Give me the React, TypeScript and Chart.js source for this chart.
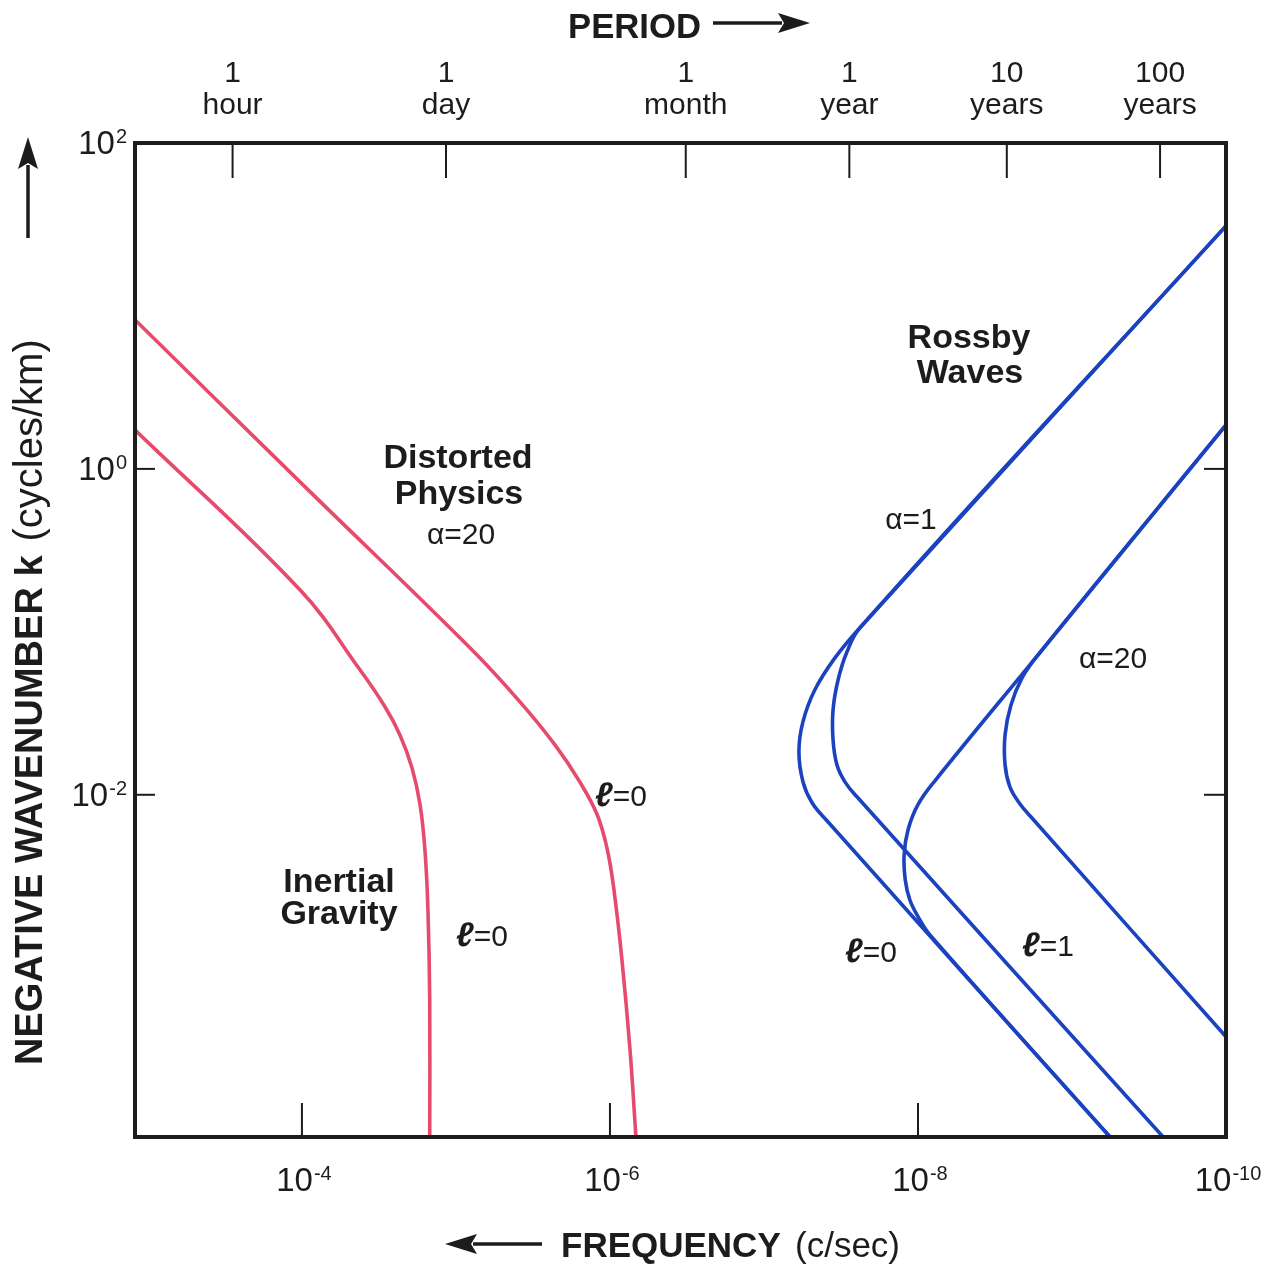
import React, { useEffect, useRef } from 'react';
import { Chart, registerables } from 'chart.js';

Chart.register(...registerables);

const FONT = '"Liberation Sans", Arial, Helvetica, sans-serif';
const INK = '#1c1c1c';
const RED = '#e64b6d';
const BLUE = '#1b42bf';

// ---- axis ranges ----
const FREQ_MIN = 1e-10;
const FREQ_MAX = 1.213e-3;
const K_MIN = 7.94e-5;
const K_MAX = 1e2;

// ---- tick values / labels ----
const FREQ_TICKS = [1e-4, 1e-6, 1e-8, 1e-10];
const FREQ_TICK_EXP = ['-4', '-6', '-8', '-10'];
const K_TICKS = [1e2, 1e0, 1e-2];
const K_TICK_EXP = ['2', '0', '-2'];
const PERIOD_FREQ = [2.82e-4, 1.16e-5, 3.22e-7, 2.79e-8, 2.65e-9, 2.68e-10];
const PERIOD_NUM = ['1', '1', '1', '1', '10', '100'];
const PERIOD_UNIT = ['hour', 'day', 'month', 'year', 'years', 'years'];

// ---- series (frequency c/sec, negative wavenumber cycles/km) ----
const inertialFreq = [1.21e-3, 1.03e-4, 4.2e-5, 2.89e-5, 2.31e-5, 1.93e-5, 1.71e-5, 1.59e-5, 1.52e-5, 1.48e-5, 1.48e-5];
const inertialK = [1.73, 0.181, 0.0585, 0.0347, 0.0233, 0.01466, 8.69e-3, 4.6e-3, 1.97e-3, 5.52e-4, 7.94e-5];

const distortedFreq = [1.21e-3, 1.03e-4, 8.11e-6, 3.84e-6, 2.28e-6, 1.57e-6, 1.21e-6, 1.04e-6, 9.42e-7, 8.36e-7, 7.41e-7, 6.78e-7];
const distortedK = [8.2, 0.832, 0.0798, 0.0372, 0.0203, 0.012, 7.54e-3, 4.6e-3, 2.61e-3, 9.72e-4, 2.73e-4, 7.94e-5];

const rossbyA1L0Freq = [1e-10, 2.38e-8, 3.46e-8, 4.67e-8, 5.58e-8, 5.93e-8, 5.58e-8, 4.87e-8, 3.95e-8, 5.66e-10];
const rossbyA1L0K = [31.0, 0.106, 0.0692, 0.0441, 0.0281, 0.01836, 0.012, 8.93e-3, 7.03e-3, 7.94e-5];

const rossbyA1L1Freq = [1e-10, 2.38e-8, 2.89e-8, 3.3e-8, 3.56e-8, 3.56e-8, 3.36e-8, 2.98e-8, 2.49e-8, 2.56e-10];
const rossbyA1L1K = [31.0, 0.106, 0.0754, 0.0508, 0.0332, 0.0217, 0.01528, 0.012, 9.72e-3, 7.94e-5];

const rossbyA20L0Freq = [1e-10, 1.66e-9, 7.76e-9, 1.0e-8, 1.16e-8, 1.23e-8, 1.21e-8, 1.13e-8, 1.0e-8, 8.36e-9, 5.66e-10];
const rossbyA20L0K = [1.86, 0.0723, 0.01219, 8.69e-3, 6.1e-3, 4.28e-3, 3.01e-3, 2.27e-3, 1.79e-3, 1.38e-3, 7.94e-5];

const rossbyA20L1Freq = [1e-10, 1.66e-9, 2.11e-9, 2.49e-9, 2.72e-9, 2.72e-9, 2.53e-9, 2.18e-9, 1.85e-9, 1e-10];
const rossbyA20L1K = [1.86, 0.0723, 0.0522, 0.0356, 0.0233, 0.01528, 0.0112, 8.81e-3, 7.33e-3, 3.27e-4];

const pts = (f: number[], k: number[]) => f.map((x, i) => ({ x, y: k[i] }));

const curve = (label: string, f: number[], k: number[], color: string) => ({
  label,
  data: pts(f, k),
  borderColor: color,
  backgroundColor: color,
  borderWidth: 3.6,
  pointRadius: 0,
  showLine: true,
  fill: false,
  tension: 0.4,
  xAxisID: 'x',
  yAxisID: 'y',
});

function txt(ctx: CanvasRenderingContext2D, s: string, x: number, y: number, font: string, align: CanvasTextAlign = 'center', maxW?: number) {
  ctx.font = font;
  ctx.textAlign = align;
  ctx.textBaseline = 'alphabetic';
  if (maxW) ctx.fillText(s, x, y, maxW);
  else ctx.fillText(s, x, y);
}

function power(ctx: CanvasRenderingContext2D, exp: string, x: number, y: number, align: 'center' | 'right') {
  const big = `33px ${FONT}`;
  const small = `20px ${FONT}`;
  ctx.font = big;
  const w1 = ctx.measureText('10').width;
  ctx.font = small;
  const w2 = ctx.measureText(exp).width;
  const total = w1 + 1 + w2;
  const x0 = align === 'center' ? x - total / 2 : x - total;
  ctx.textAlign = 'left';
  ctx.textBaseline = 'alphabetic';
  ctx.font = big;
  ctx.fillText('10', x0, y);
  ctx.font = small;
  ctx.fillText(exp, x0 + w1 + 1, y - 11);
}

function ell(ctx: CanvasRenderingContext2D, rest: string, cx: number, y: number) {
  const f1 = `italic bold 34px ${FONT}`;
  const f2 = `30px ${FONT}`;
  ctx.font = f1;
  const w1 = ctx.measureText('ℓ').width;
  ctx.font = f2;
  const w2 = ctx.measureText(rest).width;
  const x0 = cx - (w1 + w2) / 2;
  ctx.textAlign = 'left';
  ctx.textBaseline = 'alphabetic';
  ctx.font = f1;
  ctx.fillText('ℓ', x0, y);
  ctx.font = f2;
  ctx.fillText(rest, x0 + w1, y);
}

function arrow(ctx: CanvasRenderingContext2D, x1: number, y1: number, x2: number, y2: number, head = 32, half = 10, lw = 3.5) {
  const dx = x2 - x1, dy = y2 - y1;
  const len = Math.hypot(dx, dy);
  const ux = dx / len, uy = dy / len;
  const bx = x2 - ux * head, by = y2 - uy * head;
  ctx.lineWidth = lw;
  ctx.beginPath();
  ctx.moveTo(x1, y1);
  ctx.lineTo(bx + ux * 4, by + uy * 4);
  ctx.stroke();
  ctx.beginPath();
  ctx.moveTo(x2, y2);
  ctx.lineTo(bx - uy * half, by + ux * half);
  ctx.lineTo(bx + ux * 6, by + uy * 6);
  ctx.lineTo(bx + uy * half, by - ux * half);
  ctx.closePath();
  ctx.fill();
}

const overlay = {
  id: 'overlay',
  beforeDraw(chart: any) {
    const ctx = chart.ctx as CanvasRenderingContext2D;
    ctx.save();
    ctx.fillStyle = '#ffffff';
    ctx.fillRect(0, 0, chart.width, chart.height);
    ctx.restore();
  },
  afterDraw(chart: any) {
    const ctx = chart.ctx as CanvasRenderingContext2D;
    const a = chart.chartArea;
    const { x, xTop, y, yRight } = chart.scales;
    ctx.save();
    ctx.strokeStyle = INK;
    ctx.fillStyle = INK;

    // frame
    ctx.lineWidth = 4;
    ctx.strokeRect(a.left, a.top, a.right - a.left, a.bottom - a.top);

    // bottom frequency ticks + labels
    ctx.lineWidth = 2;
    FREQ_TICKS.forEach((v, i) => {
      const px = x.getPixelForValue(v);
      if (px > a.left + 4 && px < a.right - 4) {
        ctx.beginPath();
        ctx.moveTo(px, a.bottom);
        ctx.lineTo(px, a.bottom - 34);
        ctx.stroke();
      }
      power(ctx, FREQ_TICK_EXP[i], px + 2, 1191, 'center');
    });

    // top period ticks + labels
    PERIOD_FREQ.forEach((v, i) => {
      const px = xTop.getPixelForValue(v);
      ctx.beginPath();
      ctx.moveTo(px, a.top);
      ctx.lineTo(px, a.top + 35);
      ctx.stroke();
      txt(ctx, PERIOD_NUM[i], px, 82, `30px ${FONT}`);
      txt(ctx, PERIOD_UNIT[i], px, 114, `30px ${FONT}`);
    });

    // left wavenumber ticks + labels
    K_TICKS.forEach((v, i) => {
      const py = y.getPixelForValue(v);
      if (py > a.top + 4 && py < a.bottom - 4) {
        ctx.beginPath();
        ctx.moveTo(a.left, py);
        ctx.lineTo(a.left + 20, py);
        ctx.stroke();
      }
      power(ctx, K_TICK_EXP[i], 127, py + 11, 'right');
    });
    // right ticks
    K_TICKS.forEach((v) => {
      const py = yRight.getPixelForValue(v);
      if (py > a.top + 4 && py < a.bottom - 4) {
        ctx.beginPath();
        ctx.moveTo(a.right, py);
        ctx.lineTo(a.right - 22, py);
        ctx.stroke();
      }
    });

    // axis titles
    txt(ctx, 'PERIOD', 568, 38, `bold 35px ${FONT}`, 'left', 133);
    arrow(ctx, 713, 23, 810, 23);
    txt(ctx, 'FREQUENCY', 561, 1257, `bold 35px ${FONT}`, 'left', 222);
    txt(ctx, '(c/sec)', 795, 1257, `35px ${FONT}`, 'left', 108);
    arrow(ctx, 542, 1244, 445, 1244);

    ctx.save();
    ctx.translate(42, 1065);
    ctx.rotate(-Math.PI / 2);
    ctx.textAlign = 'left';
    ctx.textBaseline = 'alphabetic';
    ctx.font = `bold 38px ${FONT}`;
    ctx.fillText('NEGATIVE WAVENUMBER k', 0, 0);
    const wt = ctx.measureText('NEGATIVE WAVENUMBER k').width;
    ctx.font = `40px ${FONT}`;
    ctx.fillText('(cycles/km)', wt + 14, 0);
    ctx.restore();
    arrow(ctx, 28, 238, 28, 137);

    // annotations
    const B = `bold 34px ${FONT}`;
    const R = `30px ${FONT}`;
    txt(ctx, 'Distorted', 458, 468, B);
    txt(ctx, 'Physics', 459, 504, B);
    txt(ctx, 'α=20', 461, 544, R);
    txt(ctx, 'Inertial', 339, 892, B);
    txt(ctx, 'Gravity', 339, 924, B);
    ell(ctx, '=0', 482, 946);
    ell(ctx, '=0', 621, 806);
    txt(ctx, 'Rossby', 969, 348, B);
    txt(ctx, 'Waves', 970, 383, B);
    txt(ctx, 'α=1', 911, 529, R);
    txt(ctx, 'α=20', 1113, 668, R);
    ell(ctx, '=0', 871, 962);
    ell(ctx, '=1', 1048, 956);

    ctx.restore();
  },
};

const hiddenAxis = (extra: any) => ({
  type: 'logarithmic',
  display: true,
  bounds: 'data',
  ticks: { display: false },
  grid: { display: false, drawTicks: false },
  border: { display: false },
  title: { display: false },
  ...extra,
});

export default function App() {
  const ref = useRef<HTMLCanvasElement>(null);
  useEffect(() => {
    const chart = new Chart(ref.current as HTMLCanvasElement, {
      type: 'scatter',
      data: {
        datasets: [
          curve('Inertial Gravity ℓ=0', inertialFreq, inertialK, RED),
          curve('Distorted Physics α=20 ℓ=0', distortedFreq, distortedK, RED),
          curve('Rossby α=1 ℓ=0', rossbyA1L0Freq, rossbyA1L0K, BLUE),
          curve('Rossby α=1 ℓ=1', rossbyA1L1Freq, rossbyA1L1K, BLUE),
          curve('Rossby α=20 ℓ=0', rossbyA20L0Freq, rossbyA20L0K, BLUE),
          curve('Rossby α=20 ℓ=1', rossbyA20L1Freq, rossbyA20L1K, BLUE),
        ] as any,
      },
      options: {
        responsive: false,
        animation: false,
        devicePixelRatio: 1,
        events: [],
        layout: { padding: { left: 135, top: 143, right: 59, bottom: 129 } },
        plugins: { legend: { display: false }, tooltip: { enabled: false }, title: { display: false } },
        scales: {
          x: hiddenAxis({
            position: 'bottom', reverse: true, min: FREQ_MIN, max: FREQ_MAX,
            afterBuildTicks: (s: any) => { s.ticks = FREQ_TICKS.map((v) => ({ value: v })); },
          }),
          xTop: hiddenAxis({
            position: 'top', reverse: true, min: FREQ_MIN, max: FREQ_MAX,
            afterBuildTicks: (s: any) => { s.ticks = PERIOD_FREQ.map((v) => ({ value: v })); },
          }),
          y: hiddenAxis({
            position: 'left', min: K_MIN, max: K_MAX,
            afterBuildTicks: (s: any) => { s.ticks = K_TICKS.map((v) => ({ value: v })); },
          }),
          yRight: hiddenAxis({
            position: 'right', min: K_MIN, max: K_MAX,
            afterBuildTicks: (s: any) => { s.ticks = K_TICKS.map((v) => ({ value: v })); },
          }),
        } as any,
      },
      plugins: [overlay],
    });
    return () => chart.destroy();
  }, []);
  return (
    <div style={{ position: 'absolute', left: 0, top: 0, width: 1285, height: 1266, background: '#ffffff' }}>
      <canvas ref={ref} width={1285} height={1266} style={{ display: 'block', width: 1285, height: 1266 }} />
    </div>
  );
}
